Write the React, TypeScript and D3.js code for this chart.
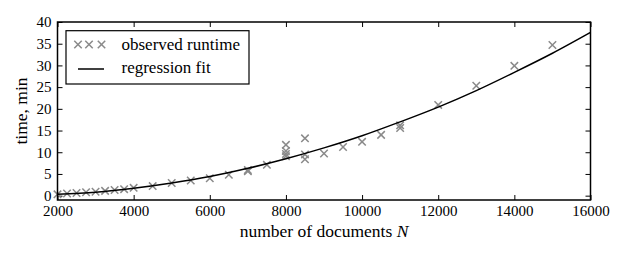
import React from 'react';
import * as d3 from 'd3';

// observed runtimes (documents, minutes)
const obsN = [2000, 2250, 2500, 2750, 3000, 3250, 3500, 3750, 4000, 4500, 5000, 5500, 6000, 6500, 7000, 7000, 7500,
  8000, 8000, 8000, 8000, 8500, 8500, 8500, 9000, 9500, 10000, 10500, 11000, 11000, 12000, 13000, 14000, 15000];
const obsTime = [0.3, 0.5, 0.6, 0.8, 0.9, 1.1, 1.3, 1.5, 1.8, 2.2, 2.9, 3.5, 4.0, 4.8, 5.6, 5.9, 7.1,
  9.1, 9.6, 10.3, 11.7, 8.4, 9.5, 13.2, 9.7, 11.2, 12.4, 14.0, 15.6, 16.2, 20.9, 25.3, 29.9, 34.7];

// regression fit
const fitN = [2000, 3000, 4000, 5000, 6000, 7000, 8000, 9000, 10000, 11000, 12000, 13000, 14000, 15000, 16000];
const fitTime = [0.3, 0.8, 1.7, 2.9, 4.4, 6.3, 8.5, 11.0, 13.8, 17.0, 20.4, 24.2, 28.4, 32.8, 37.6];

const xTicks = [2000, 4000, 6000, 8000, 10000, 12000, 14000, 16000];
const yTicks = [0, 5, 10, 15, 20, 25, 30, 35, 40];

const legendLabels = ['observed runtime', 'regression fit'];

function App() {
  const svgRef = React.useRef(null);

  const width = 623;
  const height = 260;
  const margin = { top: 22, right: 32.5, bottom: 60, left: 57.5 };
  const innerW = width - margin.left - margin.right;
  const innerH = height - margin.top - margin.bottom;

  React.useEffect(() => {
    const x = d3.scaleLinear().domain([2000, 16000]).range([0, innerW]);
    const y = d3.scaleLinear().domain([-1, 40]).range([innerH, 0]);

    const svgEl = d3.select(svgRef.current);
    svgEl.selectAll('*').remove();
    const svg = svgEl.append('g').attr('transform', `translate(${margin.left},${margin.top})`);
    const font = '"Liberation Serif", "DejaVu Serif", serif';

    // inward ticks on all four sides
    const styleAxis = (g, labels) => {
      g.select('.domain').remove();
      g.selectAll('line').attr('stroke', '#000').attr('stroke-width', 1);
      if (labels) {
        g.selectAll('text').attr('font-family', font).attr('font-size', 15).attr('fill', '#000');
      } else {
        g.selectAll('text').remove();
      }
    };

    svg.append('g').attr('transform', `translate(0,${innerH})`)
      .call(d3.axisBottom(x).tickValues(xTicks).tickSize(-5).tickPadding(5.5).tickFormat(d3.format('d')))
      .call((g) => styleAxis(g, true));
    svg.append('g')
      .call(d3.axisTop(x).tickValues(xTicks).tickSize(-5))
      .call((g) => styleAxis(g, false));
    svg.append('g')
      .call(d3.axisLeft(y).tickValues(yTicks).tickSize(-5).tickPadding(6))
      .call((g) => styleAxis(g, true));
    svg.append('g').attr('transform', `translate(${innerW},0)`)
      .call(d3.axisRight(y).tickValues(yTicks).tickSize(-5))
      .call((g) => styleAxis(g, false));

    // clip the curve to the frame
    svgEl.append('defs').append('clipPath').attr('id', 'plot-clip')
      .append('rect').attr('width', innerW).attr('height', innerH);

    // observed points as crosses
    const cross = d3.symbol().type(d3.symbolX).size(38);
    svg.append('g').selectAll('path')
      .data(obsN.map((n, i) => ({ n, t: obsTime[i] })))
      .enter()
      .append('path')
      .attr('d', cross)
      .attr('transform', (d) => `translate(${x(d.n)},${y(d.t)})`)
      .attr('fill', 'none')
      .attr('stroke', '#8a8a8a')
      .attr('stroke-width', 1.5);

    // regression curve
    const line = d3.line()
      .x((d) => x(d.n))
      .y((d) => y(d.t))
      .curve(d3.curveMonotoneX);
    svg.append('path')
      .datum(fitN.map((n, i) => ({ n, t: fitTime[i] })))
      .attr('d', line)
      .attr('clip-path', 'url(#plot-clip)')
      .attr('fill', 'none')
      .attr('stroke', '#000')
      .attr('stroke-width', 1.5);

    // frame
    svg.append('rect')
      .attr('width', innerW).attr('height', innerH)
      .attr('fill', 'none').attr('stroke', '#000').attr('stroke-width', 1.5);

    // legend
    const lg = svg.append('g').attr('transform', 'translate(8.5,8.7)');
    lg.append('rect').attr('width', 183).attr('height', 53.3)
      .attr('fill', '#fff').attr('stroke', '#000').attr('stroke-width', 1.2);
    [12, 23, 35.5].forEach((cx) => {
      lg.append('path').attr('d', cross)
        .attr('transform', `translate(${cx},${13.8})`)
        .attr('fill', 'none').attr('stroke', '#8a8a8a').attr('stroke-width', 1.5);
    });
    lg.append('line').attr('x1', 12).attr('x2', 38).attr('y1', 38.3).attr('y2', 38.3)
      .attr('stroke', '#000').attr('stroke-width', 1.5);
    legendLabels.forEach((label, i) => {
      lg.append('text').attr('x', 55.5).attr('y', 19 + i * 23.5)
        .attr('font-family', font).attr('font-size', 17).attr('fill', '#000')
        .text(label);
    });

    // axis titles
    const xl = svg.append('text')
      .attr('x', innerW / 2).attr('y', innerH + 37)
      .attr('text-anchor', 'middle')
      .attr('font-family', font).attr('font-size', 17.5).attr('fill', '#000');
    xl.append('tspan').text('number of documents ');
    xl.append('tspan').attr('font-style', 'italic').text('N');

    svg.append('text')
      .attr('transform', `translate(-31,${innerH / 2}) rotate(-90)`)
      .attr('text-anchor', 'middle')
      .attr('font-family', font).attr('font-size', 17.5).attr('fill', '#000')
      .text('time, min');
  }, []);

  return <svg ref={svgRef} width={width} height={height} style={{ position: 'absolute', left: 0, top: 0, background: '#fff' }} />;
}

export default App;
